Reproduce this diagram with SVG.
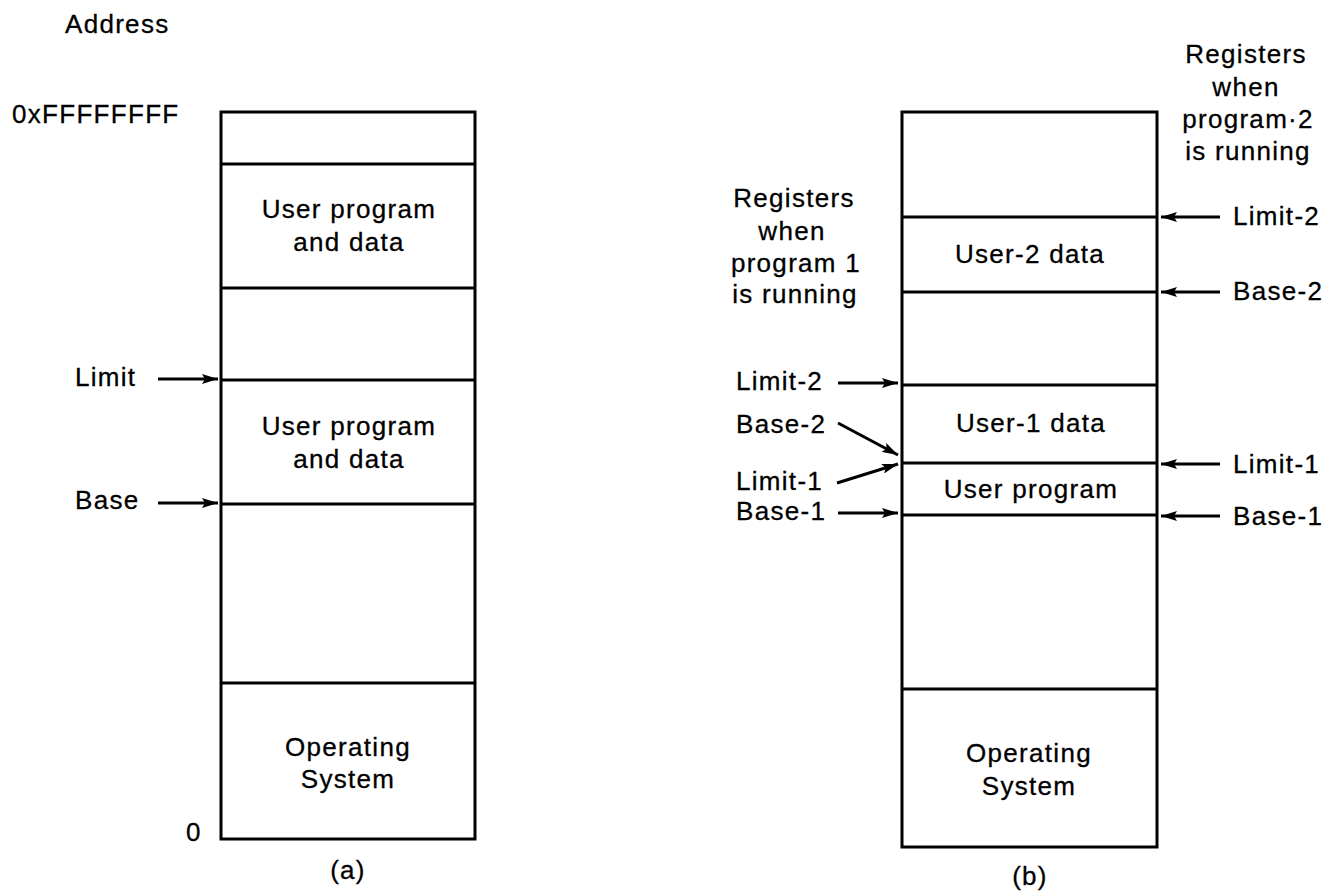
<svg xmlns="http://www.w3.org/2000/svg" width="1335" height="895" viewBox="0 0 1335 895">
<style>
text{font-family:"Liberation Sans",Arial,sans-serif;font-size:26px;letter-spacing:1.3px;fill:#000;stroke:#000;stroke-width:0.3}
.c{text-anchor:middle}
.box{fill:none;stroke:#000;stroke-width:3}
.div{stroke:#000;stroke-width:3}
.arr{stroke:#000;stroke-width:3;fill:none;marker-end:url(#ah)}
</style>
<defs>
<marker id="ah" viewBox="0 0 16 10" refX="16" refY="5" markerWidth="16" markerHeight="10" markerUnits="userSpaceOnUse" orient="auto">
<path d="M0,0 L16,5 L0,10 L3,5 z" fill="#000"/>
</marker>
</defs>
<rect width="1335" height="895" fill="#fff"/>
<g id="memory-a">
<rect class="box" x="221" y="112" width="254" height="727"/>
<line class="div" x1="221" y1="164" x2="475" y2="164"/>
<line class="div" x1="221" y1="288" x2="475" y2="288"/>
<line class="div" x1="221" y1="380" x2="475" y2="380"/>
<line class="div" x1="221" y1="504" x2="475" y2="504"/>
<line class="div" x1="221" y1="683" x2="475" y2="683"/>
<text class="c" x="349" y="218">User program</text>
<text class="c" x="349" y="251">and data</text>
<text class="c" x="349" y="435">User program</text>
<text class="c" x="349" y="468">and data</text>
<text class="c" x="348" y="756">Operating</text>
<text class="c" x="348" y="788">System</text>
</g>
<g id="labels-a">
<text x="65" y="33">Address</text>
<text x="12" y="123">0xFFFFFFFF</text>
<text x="75" y="386">Limit</text>
<text x="75" y="509">Base</text>
<text x="186" y="841">0</text>
<text class="c" x="348" y="879">(a)</text>
</g>
<g id="memory-b">
<rect class="box" x="902" y="112" width="255" height="735"/>
<line class="div" x1="902" y1="217" x2="1157" y2="217"/>
<line class="div" x1="902" y1="292" x2="1157" y2="292"/>
<line class="div" x1="902" y1="385" x2="1157" y2="385"/>
<line class="div" x1="902" y1="463" x2="1157" y2="463"/>
<line class="div" x1="902" y1="515" x2="1157" y2="515"/>
<line class="div" x1="902" y1="689" x2="1157" y2="689"/>
<text class="c" x="1030" y="263">User-2 data</text>
<text class="c" x="1031" y="432">User-1 data</text>
<text class="c" x="1031" y="498">User program</text>
<text class="c" x="1029" y="762">Operating</text>
<text class="c" x="1029" y="795">System</text>
</g>
<g id="labels-b">
<text class="c" x="794" y="207">Registers</text>
<text class="c" x="792" y="240">when</text>
<text class="c" x="796" y="272">program 1</text>
<text class="c" x="795" y="303">is running</text>
<text class="c" x="1246" y="63">Registers</text>
<text class="c" x="1246" y="96">when</text>
<text class="c" x="1248" y="128">program·2</text>
<text class="c" x="1248" y="160">is running</text>
<text x="736" y="390">Limit-2</text>
<text x="736" y="433">Base-2</text>
<text x="736" y="490">Limit-1</text>
<text x="736" y="520">Base-1</text>
<text x="1233" y="225">Limit-2</text>
<text x="1233" y="300">Base-2</text>
<text x="1233" y="473">Limit-1</text>
<text x="1233" y="525">Base-1</text>
<text class="c" x="1030" y="885">(b)</text>
</g>
<g id="connectors">
<line class="arr" x1="158" y1="379" x2="218" y2="379"/>
<line class="arr" x1="158" y1="503" x2="218" y2="503"/>
<line class="arr" x1="838" y1="383" x2="898" y2="383"/>
<line class="arr" x1="838" y1="423" x2="898" y2="455"/>
<line class="arr" x1="837" y1="483" x2="898" y2="464"/>
<line class="arr" x1="838" y1="513" x2="898" y2="513"/>
<line class="arr" x1="1220" y1="217" x2="1161" y2="217"/>
<line class="arr" x1="1220" y1="292" x2="1161" y2="292"/>
<line class="arr" x1="1220" y1="464" x2="1161" y2="464"/>
<line class="arr" x1="1220" y1="516" x2="1161" y2="516"/>
</g>
</svg>
